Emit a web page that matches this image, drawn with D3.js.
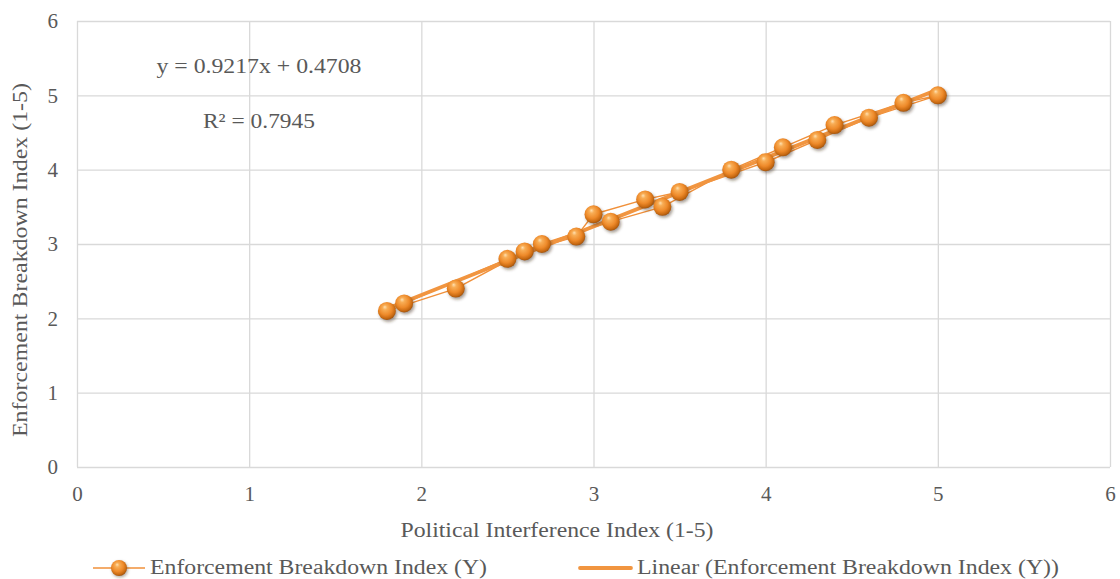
<!DOCTYPE html>
<html>
<head>
<meta charset="utf-8">
<script src="https://cdn.jsdelivr.net/npm/d3@7"></script>
<style>
  html, body { margin: 0; padding: 0; background: #ffffff; }
  svg { display: block; }
  text { font-family: "Liberation Serif", "Times New Roman", serif; fill: #595959; }
</style>
</head>
<body>
<svg id="chart" width="1120" height="579"></svg>
<script>
// Survey observations, in the order they were recorded
const politicalInterference = [1.8, 2.2, 2.6, 2.9, 3.0, 3.3, 3.5, 4.0, 4.3, 4.6, 5.0, 4.8, 4.4, 4.1, 3.8, 3.4, 3.1, 2.7, 2.5, 1.9];
const enforcementBreakdown  = [2.1, 2.4, 2.9, 3.1, 3.4, 3.6, 3.7, 4.1, 4.4, 4.7, 5.0, 4.9, 4.6, 4.3, 4.0, 3.5, 3.3, 3.0, 2.8, 2.2];

// Linear fit reported for the series
const trendSlope = 0.9217;
const trendIntercept = 0.4708;
const trendR2 = 0.7945;

const xTicks = [0, 1, 2, 3, 4, 5, 6];
const yTicks = [0, 1, 2, 3, 4, 5, 6];

const seriesName = "Enforcement Breakdown Index (Y)";
const xTitle = "Political  Interference  Index (1-5)";
const yTitle = "Enforcement  Breakdown  Index (1-5)";

const svg = d3.select("#chart");
const plot = { left: 77, right: 1110, top: 21, bottom: 467 };

const x = d3.scaleLinear().domain([0, 6]).range([plot.left, plot.right]);
const y = d3.scaleLinear().domain([0, 6]).range([plot.bottom, plot.top]);

// Sphere marker gradient and soft shadow
const defs = svg.append("defs");
const grad = defs.append("radialGradient")
  .attr("id", "ball").attr("cx", "45%").attr("cy", "42%").attr("r", "60%")
  .attr("fx", "38%").attr("fy", "28%");
grad.append("stop").attr("offset", "0%").attr("stop-color", "#ffe0b0");
grad.append("stop").attr("offset", "22%").attr("stop-color", "#f8ad55");
grad.append("stop").attr("offset", "60%").attr("stop-color", "#ee8a2a");
grad.append("stop").attr("offset", "85%").attr("stop-color", "#c96a12");
grad.append("stop").attr("offset", "100%").attr("stop-color", "#9a500c");
const shadow = defs.append("filter").attr("id", "shadow")
  .attr("x", "-50%").attr("y", "-50%").attr("width", "200%").attr("height", "200%");
shadow.append("feGaussianBlur").attr("stdDeviation", 1.6);

// Gridlines
svg.append("g")
  .attr("transform", `translate(0,${plot.bottom})`)
  .call(d3.axisBottom(x).tickValues(xTicks).tickSize(-(plot.bottom - plot.top)).tickFormat(""))
  .call(g => g.select(".domain").remove())
  .call(g => g.selectAll("line").attr("stroke", "#d9d9d9").attr("stroke-width", 1.3));
svg.append("g")
  .attr("transform", `translate(${plot.left},0)`)
  .call(d3.axisLeft(y).tickValues(yTicks).tickSize(-(plot.right - plot.left)).tickFormat(""))
  .call(g => g.select(".domain").remove())
  .call(g => g.selectAll("line").attr("stroke", "#d9d9d9").attr("stroke-width", 1.3));

// Tick labels
svg.append("g")
  .attr("transform", `translate(0,${plot.bottom})`)
  .call(d3.axisBottom(x).tickValues(xTicks).tickSize(0).tickPadding(19).tickFormat(d3.format("d")))
  .call(g => g.select(".domain").remove())
  .call(g => g.selectAll("text").style("font-size", "21px").attr("fill", "#595959")
    .style("font-family", "'Liberation Serif', serif"));
svg.append("g")
  .attr("transform", `translate(${plot.left},0)`)
  .call(d3.axisLeft(y).tickValues(yTicks).tickSize(0).tickPadding(19).tickFormat(d3.format("d")))
  .call(g => g.select(".domain").remove())
  .call(g => g.selectAll("text").style("font-size", "21px").attr("fill", "#595959")
    .style("font-family", "'Liberation Serif', serif"));

// Axis titles
svg.append("text")
  .attr("x", 557).attr("y", 537)
  .attr("text-anchor", "middle")
  .style("font-size", "21px")
  .attr("textLength", 313).attr("lengthAdjust", "spacingAndGlyphs")
  .text(xTitle);
svg.append("text")
  .attr("transform", "translate(27,260) rotate(-90)")
  .attr("text-anchor", "middle")
  .style("font-size", "21px")
  .attr("textLength", 354).attr("lengthAdjust", "spacingAndGlyphs")
  .text(yTitle);

// Series line in recorded order
const points = politicalInterference.map((v, i) => ({ x: v, y: enforcementBreakdown[i] }));
const line = d3.line().x(d => x(d.x)).y(d => y(d.y));
svg.append("path")
  .datum(points)
  .attr("fill", "none")
  .attr("stroke", "#F0903A")
  .attr("stroke-width", 1.4)
  .attr("stroke-linejoin", "round")
  .attr("d", line);

// Linear trendline over the data range
const xExtent = d3.extent(politicalInterference);
const trend = xExtent.map(v => ({ x: v, y: trendSlope * v + trendIntercept }));
svg.append("path")
  .datum(trend)
  .attr("fill", "none")
  .attr("stroke", "#F19540")
  .attr("stroke-width", 3.8)
  .attr("stroke-linecap", "round")
  .attr("d", line);

// Sphere markers
const markers = svg.append("g");
markers.selectAll("circle.sh")
  .data(points).join("circle")
  .attr("class", "sh")
  .attr("cx", d => x(d.x) + 1.5).attr("cy", d => y(d.y) + 2)
  .attr("r", 9)
  .attr("fill", "rgba(60,40,20,0.45)")
  .attr("filter", "url(#shadow)");
markers.selectAll("circle.ball")
  .data(points).join("circle")
  .attr("class", "ball")
  .attr("cx", d => x(d.x)).attr("cy", d => y(d.y))
  .attr("r", 9)
  .attr("fill", "url(#ball)");

// Trendline equation and R²
svg.append("text")
  .attr("x", 259).attr("y", 73)
  .attr("text-anchor", "middle")
  .style("font-size", "22px")
  .attr("textLength", 205).attr("lengthAdjust", "spacingAndGlyphs")
  .text(`y = ${trendSlope}x + ${trendIntercept}`);
svg.append("text")
  .attr("x", 259).attr("y", 128)
  .attr("text-anchor", "middle")
  .style("font-size", "22px")
  .attr("textLength", 112).attr("lengthAdjust", "spacingAndGlyphs")
  .text(`R² = ${trendR2}`);

// Legend
const legendY = 568;
const lg = svg.append("g");
lg.append("line").attr("x1", 93).attr("x2", 145).attr("y1", legendY).attr("y2", legendY)
  .attr("stroke", "#F0903A").attr("stroke-width", 1.5);
lg.append("circle").attr("cx", 120).attr("cy", legendY + 1.5).attr("r", 8)
  .attr("fill", "rgba(60,40,20,0.4)").attr("filter", "url(#shadow)");
lg.append("circle").attr("cx", 119).attr("cy", legendY).attr("r", 8).attr("fill", "url(#ball)");
lg.append("text").attr("x", 150).attr("y", legendY + 6)
  .style("font-size", "20px")
  .attr("textLength", 337).attr("lengthAdjust", "spacingAndGlyphs")
  .text(seriesName);
lg.append("line").attr("x1", 580).attr("x2", 631).attr("y1", legendY).attr("y2", legendY)
  .attr("stroke", "#F19540").attr("stroke-width", 3.8).attr("stroke-linecap", "round");
lg.append("text").attr("x", 637).attr("y", legendY + 6)
  .style("font-size", "20px")
  .attr("textLength", 422).attr("lengthAdjust", "spacingAndGlyphs")
  .text(`Linear (${seriesName})`);
</script>
</body>
</html>
